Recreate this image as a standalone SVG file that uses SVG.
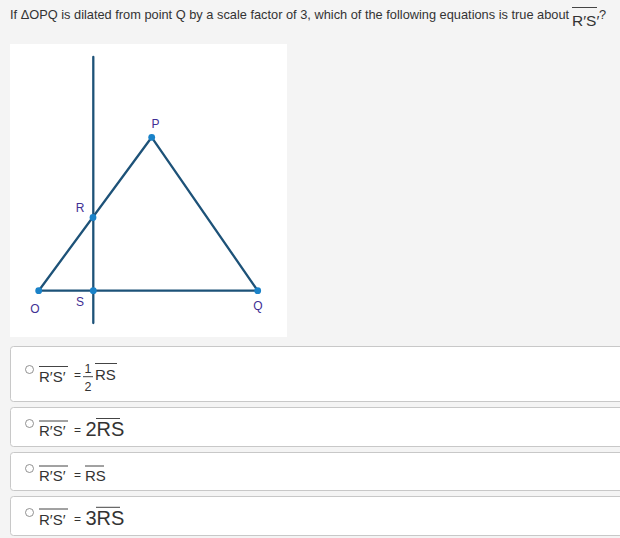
<svg xmlns="http://www.w3.org/2000/svg" width="620" height="538" viewBox="0 0 620 538">
<style>
  .t { font-family: "Liberation Sans", Arial, sans-serif; fill: #333; }
  .lbl { font-family: "Liberation Sans", Arial, sans-serif; font-size: 12px; fill: #3f2f94; text-anchor: middle; }
  .seg { stroke: #1d5278; stroke-width: 2.3; stroke-linecap: round; fill: none; }
  .dot { fill: #1a82c8; }
  .box { fill: #fff; stroke: #c8c8c8; stroke-width: 1; }
  .radio { fill: #fff; stroke: #777; stroke-width: 0.8; }
  .ov { stroke: #444; stroke-width: 1; }
</style>
<rect width="620" height="538" fill="#f4f4f4"/>

<g id="question">
  <text class="t" x="10" y="19" font-size="12.8">If ΔOPQ is dilated from point Q by a scale factor of 3, which of the following equations is true about</text>
  <text class="t" x="572" y="26" font-size="15.5">R′S′</text>
  <line class="ov" x1="572" y1="7.5" x2="597" y2="7.5"/>
  <text class="t" x="599" y="19" font-size="12.8">?</text>
</g>

<rect x="10" y="44" width="277" height="293" fill="#fff"/>

<g id="connectors">
  <line class="seg" x1="93.3" y1="57" x2="93.3" y2="323"/>
  <line class="seg" x1="38.7" y1="290.7" x2="151.7" y2="137.3"/>
  <line class="seg" x1="151.7" y1="137.3" x2="257.7" y2="290.7"/>
  <line class="seg" x1="38.7" y1="290.7" x2="257.7" y2="290.7"/>
</g>

<g id="P"><circle class="dot" cx="151.7" cy="137.3" r="3.4"/><text class="lbl" x="155.5" y="127.5">P</text></g>
<g id="R"><circle class="dot" cx="93" cy="217.5" r="3.4"/><text class="lbl" x="80" y="212">R</text></g>
<g id="O"><circle class="dot" cx="38.7" cy="290.7" r="3.4"/><text class="lbl" x="35" y="313">O</text></g>
<g id="S"><circle class="dot" cx="93.3" cy="290.7" r="3.4"/><text class="lbl" x="80" y="306">S</text></g>
<g id="Q"><circle class="dot" cx="257.7" cy="290.7" r="3.4"/><text class="lbl" x="258" y="309.5">Q</text></g>

<g id="option1">
  <rect class="box" x="10.5" y="346.5" width="620" height="55" rx="3"/>
  <circle class="radio" cx="29.5" cy="369.5" r="4"/>
  <text class="t" x="39" y="381.5" font-size="15">R′S′</text>
  <line class="ov" x1="39" y1="366.5" x2="68" y2="366.5"/>
  <text class="t" x="74" y="379" font-size="12">=</text>
  <text class="t" x="88" y="373" font-size="12.5" text-anchor="middle">1</text>
  <line class="ov" x1="83" y1="376.7" x2="93" y2="376.7"/>
  <text class="t" x="88" y="391" font-size="12.5" text-anchor="middle">2</text>
  <text class="t" x="95" y="380" font-size="15">RS</text>
  <line class="ov" x1="95" y1="363.5" x2="117" y2="363.5"/>
</g>

<g id="option2">
  <rect class="box" x="10.5" y="407.5" width="620" height="39" rx="3"/>
  <circle class="radio" cx="29.5" cy="423.5" r="4"/>
  <text class="t" x="39" y="436" font-size="15">R′S′</text>
  <line class="ov" x1="39" y1="421" x2="68" y2="421"/>
  <text class="t" x="74" y="434" font-size="12">=</text>
  <text class="t" x="85.5" y="436" font-size="20">2RS</text>
  <line class="ov" x1="96" y1="418.5" x2="120" y2="418.5"/>
</g>

<g id="option3">
  <rect class="box" x="10.5" y="452.5" width="620" height="38" rx="3"/>
  <circle class="radio" cx="29.5" cy="468.5" r="4"/>
  <text class="t" x="39" y="481" font-size="15">R′S′</text>
  <line class="ov" x1="39" y1="466" x2="68" y2="466"/>
  <text class="t" x="74" y="479" font-size="12">=</text>
  <text class="t" x="85" y="481" font-size="15">RS</text>
  <line class="ov" x1="85" y1="466" x2="104" y2="466"/>
</g>

<g id="option4">
  <rect class="box" x="10.5" y="496.5" width="620" height="39" rx="3"/>
  <circle class="radio" cx="29.5" cy="512.5" r="4"/>
  <text class="t" x="39" y="524.5" font-size="15">R′S′</text>
  <line class="ov" x1="39" y1="509" x2="68" y2="509"/>
  <text class="t" x="74" y="522.5" font-size="12">=</text>
  <text class="t" x="85.5" y="524.5" font-size="20">3RS</text>
  <line class="ov" x1="96" y1="507.3" x2="120" y2="507.3"/>
</g>
</svg>
